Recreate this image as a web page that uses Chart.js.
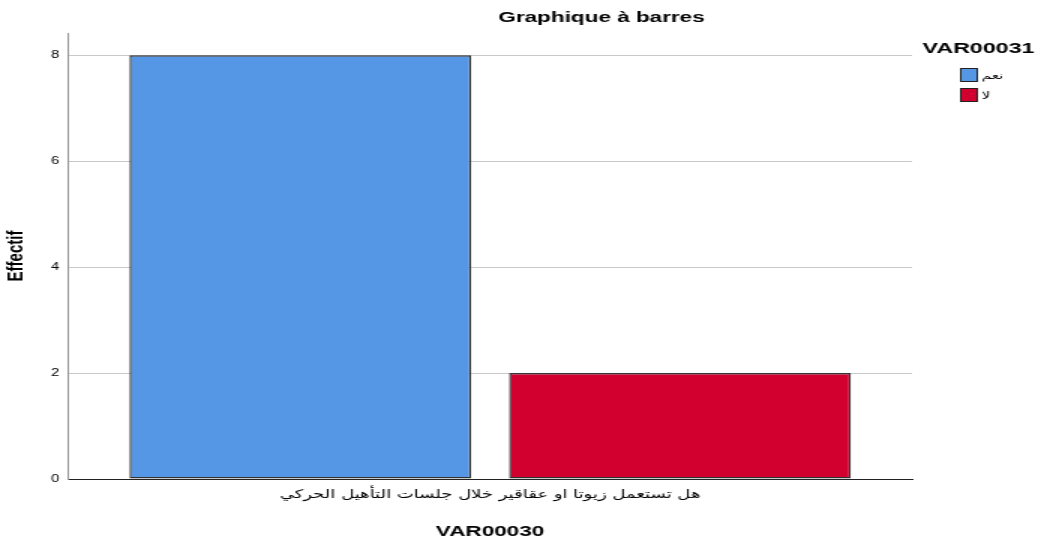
<!DOCTYPE html>
<html>
<head>
<meta charset="utf-8">
<script src="https://cdn.jsdelivr.net/npm/chart.js@4"></script>
<style>
  body { margin: 0; background: #fff; overflow: hidden; }
  /* the spss export is stretched sideways, so draw narrow and stretch it */
  #wrap { width: 692px; height: 545px; transform: scaleX(1.5); transform-origin: 0 0; }
</style>
</head>
<body>
<div id="wrap"><canvas id="barChart"></canvas></div>
<script>
const categories = ['هل تستعمل زيوتا او عقاقير خلال جلسات التأهيل الحركي']
const seriesNames = ['نعم', 'لا']
const seriesValues = [[8], [2]]
const seriesColors = ['#5596E5', '#D2002F']
const yTicks = [0, 2, 4, 6, 8]

const chartTitle = 'Graphique à barres'
const legendTitle = 'VAR00031'
const xTitle = 'VAR00030'
const yTitle = 'Effectif'

const sans = '"Liberation Sans", Arial, sans-serif'

// title + legend drawn by hand, spss style
const spssDecor = {
    id: 'spssDecor',
    afterDraw(chart) {
        const ctx = chart.ctx
        ctx.save()
        ctx.fillStyle = '#000'
        ctx.textBaseline = 'middle'
        ctx.textAlign = 'center'
        ctx.font = 'bold 15px ' + sans
        ctx.fillText(chartTitle, 401, 18)

        ctx.textAlign = 'left'
        ctx.font = 'bold 15.5px ' + sans
        ctx.fillText(legendTitle, 615, 49)

        ctx.font = '10px "DejaVu Sans", Arial, sans-serif'
        chart.data.datasets.forEach((ds, i) => {
            const y = 68 + i * 20
            ctx.fillStyle = ds.backgroundColor
            ctx.fillRect(640.5, y, 11, 14)
            ctx.strokeStyle = '#222'
            ctx.lineWidth = 1
            ctx.strokeRect(640.5, y + 0.5, 11, 13)
            ctx.fillStyle = '#000'
            ctx.fillText(ds.label, 654.5, y + 8)
        })
        ctx.restore()
    }
}

new Chart(document.getElementById('barChart'), {
    type: 'bar',
    data: {
        labels: categories,
        datasets: seriesNames.map((name, i) => ({
            label: name,
            data: seriesValues[i],
            backgroundColor: seriesColors[i],
            borderColor: '#333',
            borderWidth: 1.4,
            borderSkipped: false,
            categoryPercentage: 0.9,
            barPercentage: 0.9
        }))
    },
    options: {
        responsive: true,
        maintainAspectRatio: false,
        animation: false,
        layout: {padding: {top: 33, right: 84, left: 0, bottom: 0}},
        plugins: {
            legend: {display: false},
            title: {display: false},
            tooltip: {enabled: false}
        },
        scales: {
            x: {
                grid: {display: false, drawTicks: false},
                border: {color: '#222', width: 1},
                ticks: {
                    color: '#000',
                    padding: 9,
                    font: {family: '"DejaVu Sans", Arial, sans-serif', size: 12}
                },
                title: {
                    display: true,
                    text: xTitle,
                    color: '#000',
                    padding: {top: 14},
                    font: {family: sans, size: 15, weight: 'bold'}
                },
                afterFit(scale) { scale.height = 66 }
            },
            y: {
                min: 0,
                max: 8.42,
                afterBuildTicks(scale) { scale.ticks = yTicks.map(v => ({value: v})) },
                grid: {color: '#c8c8c8', drawTicks: false},
                border: {color: '#999', width: 1},
                ticks: {
                    color: '#000',
                    padding: 6,
                    font: {family: sans, size: 10}
                },
                title: {
                    display: true,
                    text: yTitle,
                    color: '#000',
                    padding: {top: 2},
                    font: {family: sans, size: 15, weight: 'bold'}
                },
                afterFit(scale) { scale.width = 45.5 }
            }
        }
    },
    plugins: [spssDecor]
})
</script>
</body>
</html>
